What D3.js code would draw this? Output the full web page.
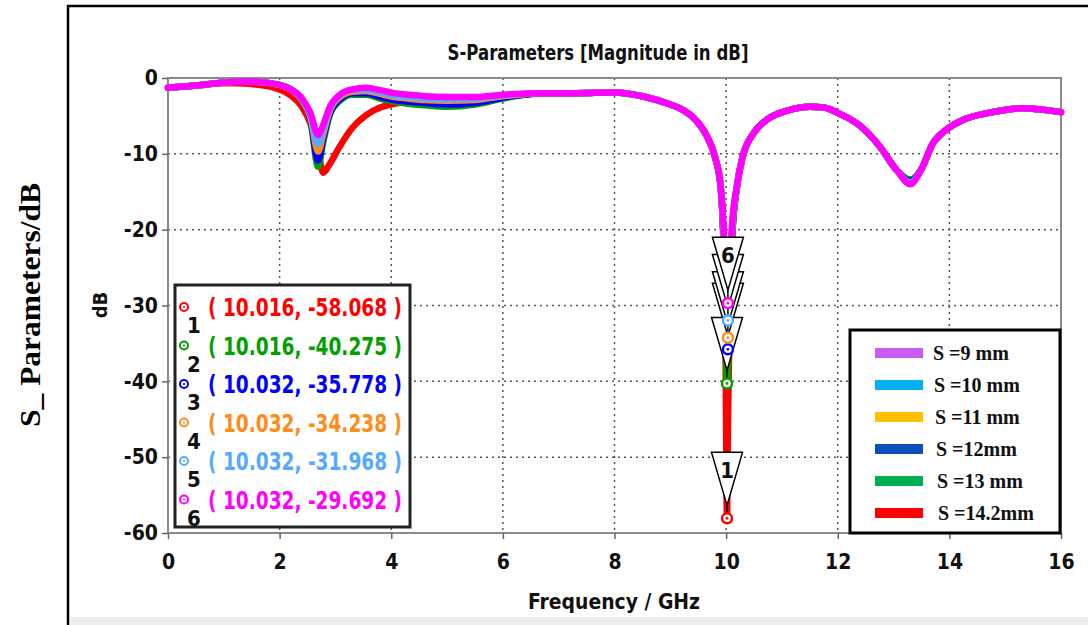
<!DOCTYPE html>
<html>
<head>
<meta charset="utf-8">
<script src="https://cdn.jsdelivr.net/npm/d3@7"></script>
<style>
body { margin: 0; background: #fff; }
svg { display: block; }
.sans { font-family: "Liberation Sans Narrow", "DejaVu Sans Condensed", "DejaVu Sans", sans-serif; font-weight: bold; }
.serif { font-family: "Liberation Serif", "Times New Roman", serif; font-weight: bold; }
.grid line { stroke: #555; stroke-width: 1.5; stroke-dasharray: 2,4; }
.axis path { display: none; }
.axis line { stroke: #666; stroke-width: 1.5; }
.axis text { font-family: "Liberation Sans Narrow", "DejaVu Sans Condensed", "DejaVu Sans", sans-serif; font-weight: bold; font-size: 21px; fill: #111; }
</style>
</head>
<body>
<div id="chart"></div>
<script>

// frequency grid (GHz), shared by all sweeps
var freq = [0, 0.5, 1, 1.25, 1.5, 2, 2.2, 2.4, 2.55, 2.69, 2.78, 2.9, 3.08, 3.3, 3.55, 3.8, 4.05, 4.3, 4.6, 5,
  5.5, 6, 6.7, 7.3, 8, 8.5, 9, 9.2, 9.45, 9.65, 9.8, 9.9, 9.95, 9.985, 10.016, 10.032, 10.06, 10.1, 10.2, 10.3,
  10.5, 10.75, 11.1, 11.5, 11.75, 12, 12.4, 12.75, 13.05, 13.3, 13.5, 13.7, 13.95, 14.25, 14.7, 15.3, 16];

// S11 (dB) per slot spacing
var s9 = [-1.3,-1.0,-0.6,-0.5,-0.5,-0.9,-1.5,-2.7,-4.6,-7.5, -6.2,-3.8,-2.2,-1.5,-1.3,-1.6,-2.0,-2.2,-2.4,-2.5,
  -2.5,-2.2,-2.0,-2.0,-1.9,-2.4,-3.5,-4.1,-5.5,-7.6, -10.4,-14.2,-19.0,-25.0,-28.8,-29.692,-27.0,-20.0,-14.0,-10.3,
  -7.2,-5.4,-4.3,-3.8,-3.9,-4.6,-6.3,-9.0,-12.1,-14.0, -12.0,-8.7,-6.8,-5.5,-4.6,-4.0,-4.5];
var s10 = [-1.3,-1.0,-0.6,-0.5,-0.5,-0.9,-1.5,-2.8,-4.9,-8.7, -6.8,-4.0,-2.3,-1.6,-1.5,-1.9,-2.3,-2.5,-2.7,-2.8,
  -2.7,-2.3,-2.0,-2.0,-1.9,-2.4,-3.5,-4.1,-5.5,-7.6, -10.4,-14.2,-19.5,-26.0,-30.8,-31.968,-28.5,-20.5,-14.0,-10.3,
  -7.2,-5.4,-4.3,-3.8,-3.9,-4.6,-6.3,-9.0,-12.1,-13.8, -12.0,-8.7,-6.8,-5.5,-4.6,-4.0,-4.5];
var s11 = [-1.3,-1.0,-0.6,-0.5,-0.5,-0.9,-1.5,-2.9,-5.1,-9.7, -7.4,-4.3,-2.5,-1.8,-1.7,-2.1,-2.5,-2.7,-2.9,-3.0,
  -2.9,-2.4,-2.0,-2.0,-1.9,-2.4,-3.5,-4.1,-5.5,-7.6, -10.4,-14.2,-20.0,-27.0,-33.0,-34.238,-30.0,-21.0,-14.0,-10.3,
  -7.2,-5.4,-4.3,-3.8,-3.9,-4.6,-6.3,-9.0,-12.1,-13.8, -12.0,-8.7,-6.8,-5.5,-4.6,-4.0,-4.5];
var s12 = [-1.3,-1.0,-0.6,-0.5,-0.5,-0.9,-1.5,-2.9,-5.3,-10.9, -8.0,-4.6,-2.8,-2.0,-2.0,-2.5,-2.9,-3.1,-3.3,-3.5,
  -3.3,-2.6,-2.0,-2.0,-1.9,-2.4,-3.5,-4.1,-5.5,-7.6, -10.4,-14.2,-20.5,-28.0,-34.5,-35.778,-31.0,-21.5,-14.0,-10.3,
  -7.2,-5.4,-4.3,-3.8,-3.9,-4.6,-6.3,-9.0,-12.1,-13.6, -12.0,-8.7,-6.8,-5.5,-4.6,-4.0,-4.5];
var s13 = [-1.3,-1.0,-0.6,-0.5,-0.5,-0.9,-1.5,-3.0,-5.5,-11.7, -8.5,-4.9,-3.0,-2.2,-2.2,-2.7,-3.1,-3.4,-3.6,-3.8,
  -3.5,-2.7,-2.0,-2.0,-1.9,-2.4,-3.5,-4.1,-5.5,-7.6, -10.4,-14.2,-21.0,-30.0,-40.275,-38.0,-32.0,-22.0,-14.0,-10.3,
  -7.2,-5.4,-4.3,-3.8,-3.9,-4.6,-6.3,-9.0,-12.1,-13.4, -12.0,-8.7,-6.8,-5.5,-4.6,-4.0,-4.5];
var s142 = [-1.3,-1.0,-0.7,-0.7,-0.8,-1.5,-2.3,-3.8,-6.0,-9.5, -12.5,-11.3,-9.0,-6.6,-4.9,-3.9,-3.4,-3.2,-3.3,-3.5,
  -3.3,-2.6,-2.0,-2.0,-1.9,-2.4,-3.5,-4.1,-5.5,-7.6, -10.4,-14.2,-21.0,-32.0,-58.068,-46.0,-33.0,-22.0,-14.0,-10.3,
  -7.2,-5.4,-4.3,-3.8,-3.9,-4.6,-6.3,-9.0,-12.1,-13.6, -12.0,-8.7,-6.8,-5.5,-4.6,-4.0,-4.5];

// drawn bottom to top
var seriesValues = [s142, s13, s12, s11, s10, s9];
var seriesColors = ["#ff0000", "#00a000", "#0000ff", "#ff8c1a", "#55aaff", "#ff00ff"];

// legend (as printed on the figure)
var legendLabels = ["S =9 mm", "S =10 mm", "S =11 mm", "S =12mm", "S =13 mm", "S =14.2mm"];
var legendColors = ["#c75cf2", "#00b0f0", "#ffc000", "#0b4fbd", "#00b050", "#ff0000"];

// markers 1..6
var markerFreq = [10.016, 10.016, 10.032, 10.032, 10.032, 10.032];
var markerDb = [-58.068, -40.275, -35.778, -34.238, -31.968, -29.692];
var markerColors = ["#ff0000", "#00a000", "#0000ff", "#ff8c1a", "#55aaff", "#ff00ff"];

var xTicks = [0, 2, 4, 6, 8, 10, 12, 14, 16];
var yTicks = [0, -10, -20, -30, -40, -50, -60];

var W = 1088, H = 625;
var plot = {left: 168, right: 1061, top: 78, bottom: 533};

var svg = d3.select("#chart").append("svg")
    .attr("width", W)
    .attr("height", H);

var x = d3.scaleLinear().domain([0, 16]).range([plot.left, plot.right]);
var y = d3.scaleLinear().domain([-60, 0]).range([plot.bottom, plot.top]);

// outer figure frame + grey strip at the bottom
svg.append("rect").attr("x", 70).attr("y", 617).attr("width", W - 70).attr("height", 8).attr("fill", "#eeeeee");
svg.append("path").attr("d", "M68," + H + "V6H" + W)
    .attr("fill", "none").attr("stroke", "#000").attr("stroke-width", 2.5);

// grid
var grid = svg.append("g").attr("class", "grid");
grid.selectAll("line.v")
    .data(xTicks.filter(function(d) { return d > 0 && d < 16; }))
  .enter().append("line")
    .attr("x1", function(d) { return x(d); }).attr("x2", function(d) { return x(d); })
    .attr("y1", plot.top).attr("y2", plot.bottom);
grid.selectAll("line.h")
    .data(yTicks.filter(function(d) { return d < 0 && d > -60; }))
  .enter().append("line")
    .attr("x1", plot.left).attr("x2", plot.right)
    .attr("y1", function(d) { return y(d); }).attr("y2", function(d) { return y(d); });

// plot frame
svg.append("rect")
    .attr("x", plot.left).attr("y", plot.top)
    .attr("width", plot.right - plot.left).attr("height", plot.bottom - plot.top)
    .attr("fill", "none").attr("stroke", "#8a8a8a").attr("stroke-width", 2);

// axes (plain hyphen minus, like the original)
var fmt = function(d) { return String(d); };
svg.append("g").attr("class", "axis")
    .attr("transform", "translate(" + plot.left + ",0)")
    .call(d3.axisLeft(y).tickValues(yTicks).tickSize(6).tickPadding(4).tickFormat(fmt));
svg.append("g").attr("class", "axis")
    .attr("transform", "translate(0," + plot.bottom + ")")
    .call(d3.axisBottom(x).tickValues(xTicks).tickSize(6).tickPadding(15).tickFormat(fmt));

// curves
var line = d3.line()
    .x(function(d, i) { return x(freq[i]); })
    .y(function(d) { return y(d); })
    .curve(d3.curveMonotoneX);

svg.append("g").selectAll("path")
    .data(seriesValues)
  .enter().append("path")
    .attr("d", line)
    .attr("fill", "none")
    .attr("stroke", function(d, i) { return seriesColors[i]; })
    .attr("stroke-width", 6.5)
    .attr("stroke-linejoin", "round")
    .attr("stroke-linecap", "round");

// marker flags (triangles)
var triTop = 66, triTip = 13, triHalf = 15.5;
var markers = markerDb.map(function(d, i) {
  return {id: i + 1, f: markerFreq[i], db: d, color: markerColors[i]};
});

var flags = svg.append("g");
markers.forEach(function(m) {
  var cx = x(m.f), cy = y(m.db);
  var g = flags.append("g");
  g.append("line")
      .attr("x1", cx).attr("x2", cx)
      .attr("y1", cy - triTip).attr("y2", cy - 5)
      .attr("stroke", "#000").attr("stroke-width", 1.5);
  g.append("path")
      .attr("d", "M" + (cx - triHalf) + "," + (cy - triTop) + "H" + (cx + triHalf) + "L" + cx + "," + (cy - triTip) + "Z")
      .attr("fill", "#fff").attr("stroke", "#000").attr("stroke-width", 1.5);
  // hide the number when a higher flag sits over it
  var ly = cy - triTop + 18;
  var covered = markers.some(function(o) {
    var oy = y(o.db);
    return o.db > m.db && ly > oy - triTop && ly < oy - triTip;
  });
  if (!covered) {
    g.append("text")
        .attr("class", "sans")
        .attr("x", cx).attr("y", ly + 8)
        .attr("text-anchor", "middle")
        .style("font-size", "22px")
        .attr("fill", "#111")
        .text(m.id);
  }
});

// marker dots
svg.append("g").selectAll("g")
    .data(markers)
  .enter().append("g")
    .each(function(m) {
      var g = d3.select(this);
      g.append("circle").attr("cx", x(m.f)).attr("cy", y(m.db)).attr("r", 5)
          .attr("fill", "#fff").attr("stroke", m.color).attr("stroke-width", 2.5);
      g.append("circle").attr("cx", x(m.f)).attr("cy", y(m.db)).attr("r", 1.4).attr("fill", m.color);
    });

// marker table
var tbl = svg.append("g");
tbl.append("rect")
    .attr("x", 175).attr("y", 285).attr("width", 235).attr("height", 242)
    .attr("fill", "#fff").attr("stroke", "#222").attr("stroke-width", 3);
markers.forEach(function(m, i) {
  var ry = 307 + i * 38.5;
  tbl.append("circle").attr("cx", 184).attr("cy", ry).attr("r", 4)
      .attr("fill", "#fff").attr("stroke", m.color).attr("stroke-width", 2);
  tbl.append("circle").attr("cx", 184).attr("cy", ry).attr("r", 1).attr("fill", m.color);
  tbl.append("text").attr("class", "sans")
      .attr("x", 187).attr("y", ry + 26)
      .style("font-size", "22px").attr("fill", "#111")
      .text(m.id);
  tbl.append("text").attr("class", "sans")
      .attr("x", 208).attr("y", ry + 9)
      .style("font-size", "24px").attr("fill", m.color)
      .attr("textLength", 194).attr("lengthAdjust", "spacingAndGlyphs")
      .text("( " + m.f.toFixed(3) + ", " + m.db.toFixed(3) + " )");
});

// legend
var leg = svg.append("g");
leg.append("rect")
    .attr("x", 850).attr("y", 330).attr("width", 210).attr("height", 203)
    .attr("fill", "#fff").attr("stroke", "#000").attr("stroke-width", 3);
legendLabels.forEach(function(lbl, i) {
  var ry = 353 + i * 32;
  leg.append("rect").attr("x", 875).attr("y", ry - 5).attr("width", 48).attr("height", 10)
      .attr("fill", legendColors[i]);
  leg.append("text").attr("class", "serif")
      .attr("x", 933 + i).attr("y", ry + 7)
      .style("font-size", "20px").attr("fill", "#111")
      .text(lbl);
});

// titles
svg.append("text").attr("class", "sans")
    .attr("x", 598).attr("y", 60).attr("text-anchor", "middle")
    .style("font-size", "22px").attr("fill", "#111")
    .attr("textLength", 301).attr("lengthAdjust", "spacingAndGlyphs")
    .text("S-Parameters [Magnitude in dB]");

svg.append("text").attr("class", "sans")
    .attr("x", 614).attr("y", 609).attr("text-anchor", "middle")
    .style("font-size", "22px").attr("fill", "#111")
    .attr("textLength", 172).attr("lengthAdjust", "spacingAndGlyphs")
    .text("Frequency / GHz");

svg.append("text").attr("class", "sans")
    .attr("transform", "translate(107,305) rotate(-90)")
    .attr("text-anchor", "middle")
    .style("font-size", "20px").attr("fill", "#111")
    .text("dB");

svg.append("text").attr("class", "serif")
    .attr("transform", "translate(40,305) rotate(-90)")
    .attr("text-anchor", "middle")
    .style("font-size", "30px").attr("fill", "#000")
    .attr("textLength", 244).attr("lengthAdjust", "spacingAndGlyphs")
    .text("S_ Parameters/dB");

</script>
</body>
</html>
